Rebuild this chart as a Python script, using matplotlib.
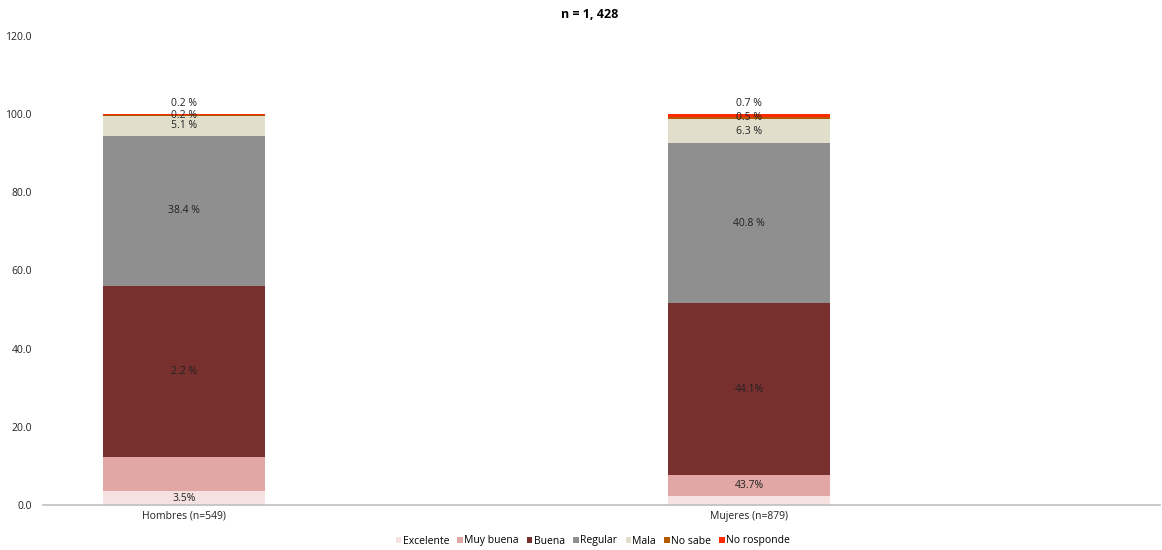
import matplotlib
matplotlib.use("Agg")
import matplotlib.pyplot as plt
import numpy as np

plt.rcParams['font.family'] = ['Open Sans', 'DejaVu Sans']

categories = ["Hombres (n=549)", "Mujeres (n=879)"]
series = ["Excelente", "Muy buena", "Buena", "Regular", "Mala", "No sabe", "No rosponde"]
colors = ["#F5E1E0", "#E2A6A4", "#78302E", "#8F8F8F", "#E1DFCC", "#B35A00", "#FF2A00"]
values = {
    "Excelente":   [3.5, 2.2],
    "Muy buena":   [8.9, 5.4],
    "Buena":       [43.7, 44.1],
    "Regular":     [38.4, 40.8],
    "Mala":        [5.1, 6.3],
    "No sabe":     [0.2, 0.5],
    "No rosponde": [0.2, 0.7],
}
labels = {
    "Excelente":   ["3.5%", ""],
    "Muy buena":   ["", "43.7%"],
    "Buena":       ["2.2 %", "44.1%"],
    "Regular":     ["38.4 %", "40.8 %"],
    "Mala":        ["5.1 %", "6.3 %"],
    "No sabe":     ["0.2 %", "0.5 %"],
    "No rosponde": ["0.2 %", "0.7 %"],
}
title = "n = 1, 428"

fig = plt.figure(figsize=(11.62, 5.5), dpi=100)
ax = fig.add_axes([43/1162, 1-505/550, (1160-43)/1162, (505-36)/550])

x = np.arange(len(categories))
width = 0.287
bottom = np.zeros(len(categories))
for s, c in zip(series, colors):
    v = np.array(values[s])
    ax.bar(x, v, width, bottom=bottom, color=c, label=s, zorder=2)
    for i in range(len(categories)):
        t = labels[s][i]
        if t:
            if s == "No rosponde":
                ax.annotate(t, (x[i], bottom[i] + v[i]), xytext=(0, 8), textcoords="offset points",
                            ha="center", va="center", fontsize=7.5, color="#222222")
            else:
                ax.text(x[i], bottom[i] + v[i] / 2, t, ha="center", va="center",
                        fontsize=7.5, color="#222222")
    bottom += v

ax.set_ylim(0, 120)
ax.set_yticks(np.arange(0, 121, 20))
ax.set_yticklabels([f"{t:.1f}" for t in np.arange(0, 121, 20)], fontsize=7.5, color="#222222")
ax.set_xlim(-0.2496, 1.727)
ax.set_xticks(x)
ax.set_xticklabels(categories, fontsize=7.5, color="#222222")
ax.tick_params(axis='both', length=0)
ax.tick_params(axis='y', pad=8)
ax.tick_params(axis='x', pad=4)
for side in ["left", "right", "top"]:
    ax.spines[side].set_visible(False)
ax.spines["bottom"].set_color("#BFBFBF")
ax.spines["bottom"].set_linewidth(1.2)

fig.text(590/1162, 1-15/550, title, ha="center", va="center", fontsize=9, fontweight="bold")

handles, lbls = ax.get_legend_handles_labels()
fig.legend(handles, lbls, loc="center", bbox_to_anchor=(593/1162, 1-541/550), ncol=7,
           frameon=False, fontsize=7.5, handlelength=0.5, handleheight=0.5,
           handletextpad=0.15, columnspacing=0.8)

fig.savefig("out.png", dpi=100)
